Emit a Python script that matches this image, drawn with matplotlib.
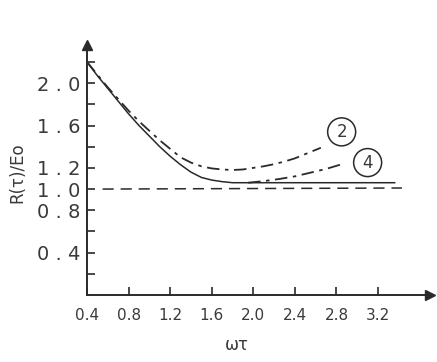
import matplotlib
matplotlib.use("Agg")
import matplotlib.pyplot as plt

plt.rcParams['lines.scale_dashes'] = False
plt.rcParams['font.family'] = ['DejaVu Sans']

# Data
solid_x = [0.4, 0.5, 0.6, 0.7, 0.8, 0.9, 1.0, 1.1, 1.2, 1.3, 1.4, 1.5, 1.6, 1.7, 1.8,
           2.0, 2.4, 2.8, 3.2, 3.36]
solid_y = [2.2, 2.07, 1.95, 1.83, 1.71, 1.60, 1.50, 1.40, 1.31, 1.23, 1.16, 1.11, 1.085,
           1.07, 1.06, 1.06, 1.06, 1.06, 1.06, 1.06]

c2_x = [0.4, 0.5, 0.6, 0.7, 0.8, 0.9, 1.0, 1.1, 1.2, 1.3, 1.4, 1.5, 1.6, 1.7, 1.8,
        1.9, 2.0, 2.1, 2.2, 2.3, 2.4, 2.5, 2.65]
c2_y = [2.2, 2.08, 1.96, 1.85, 1.74, 1.64, 1.55, 1.46, 1.38, 1.30, 1.25, 1.215, 1.195,
        1.185, 1.18, 1.185, 1.20, 1.215, 1.235, 1.26, 1.29, 1.33, 1.39]

c4_x = [1.95, 2.1, 2.25, 2.4, 2.55, 2.7, 2.87]
c4_y = [1.06, 1.075, 1.095, 1.12, 1.155, 1.19, 1.24]

ref_x = [0.55, 3.43]
ref_y = [1.0, 1.01]

labels = ['2', '4']
label_x = [2.85, 3.10]
label_y = [1.54, 1.25]

xticks = [0.4, 0.8, 1.2, 1.6, 2.0, 2.4, 2.8, 3.2]
xtick_labels = ['0.4', '0.8', '1.2', '1.6', '2.0', '2.4', '2.8', '3.2']
yticks = [0.2, 0.4, 0.6, 0.8, 1.0, 1.2, 1.4, 1.6, 1.8, 2.0, 2.2]
ytick_labels = ['', '0 . 4', '', '0 . 8', '1 . 0', '1 . 2', '', '1 . 6', '', '2 . 0', '']

ink = '#2a2a2a'
txt = '#3a3a3a'

fig = plt.figure(figsize=(4.37, 3.62), dpi=100)
ax = fig.add_axes([87/437, 1 - 295/362, 343/437, 250/362])

ax.plot(solid_x, solid_y, color=ink, lw=1.1)
ax.plot(c2_x, c2_y, color=ink, lw=1.3, linestyle=(0, (9, 4, 2.5, 4)))
ax.plot(c4_x, c4_y, color=ink, lw=1.3, linestyle=(0, (9, 4, 2.5, 4)))
ax.plot(ref_x, ref_y, color=ink, lw=1.1, linestyle=(0, (8, 5)))

for t, lx, ly in zip(labels, label_x, label_y):
    ax.text(lx, ly, t, fontsize=12, ha='center', va='center', color=txt,
            bbox=dict(boxstyle='circle,pad=0.3', fc='white', ec=ink, lw=1.1))

ax.set_xlim(0.4, 3.70)
ax.set_ylim(0, 2.36)

for s in ['top', 'right']:
    ax.spines[s].set_visible(False)
for s in ['left', 'bottom']:
    ax.spines[s].set_linewidth(1.4)
    ax.spines[s].set_color(ink)

ax.plot(1, 0, marker='>', color=ink, markersize=7, transform=ax.transAxes, clip_on=False)
ax.plot(0, 1, marker='^', color=ink, markersize=7, transform=ax.transAxes, clip_on=False)

ax.set_xticks(xticks)
ax.set_xticklabels(xtick_labels, fontsize=11, color=txt)
ax.set_yticks(yticks)
ax.set_yticklabels(ytick_labels, fontsize=14, color=txt)
ax.tick_params(axis='x', direction='in', length=6, width=1.2, pad=9, colors=ink, labelcolor=txt)
ax.tick_params(axis='y', direction='in', length=6, width=1.2, pad=5, colors=ink, labelcolor=txt)

fig.text(17/437, 1 - 173/362, 'R(τ)/Eo', rotation=90, fontsize=12, ha='center', va='center',
         color=txt)
fig.text(237/437, 1 - 345/362, 'ωτ', fontsize=12, ha='center', va='center', color=txt)

fig.savefig('out.png', dpi=100)
